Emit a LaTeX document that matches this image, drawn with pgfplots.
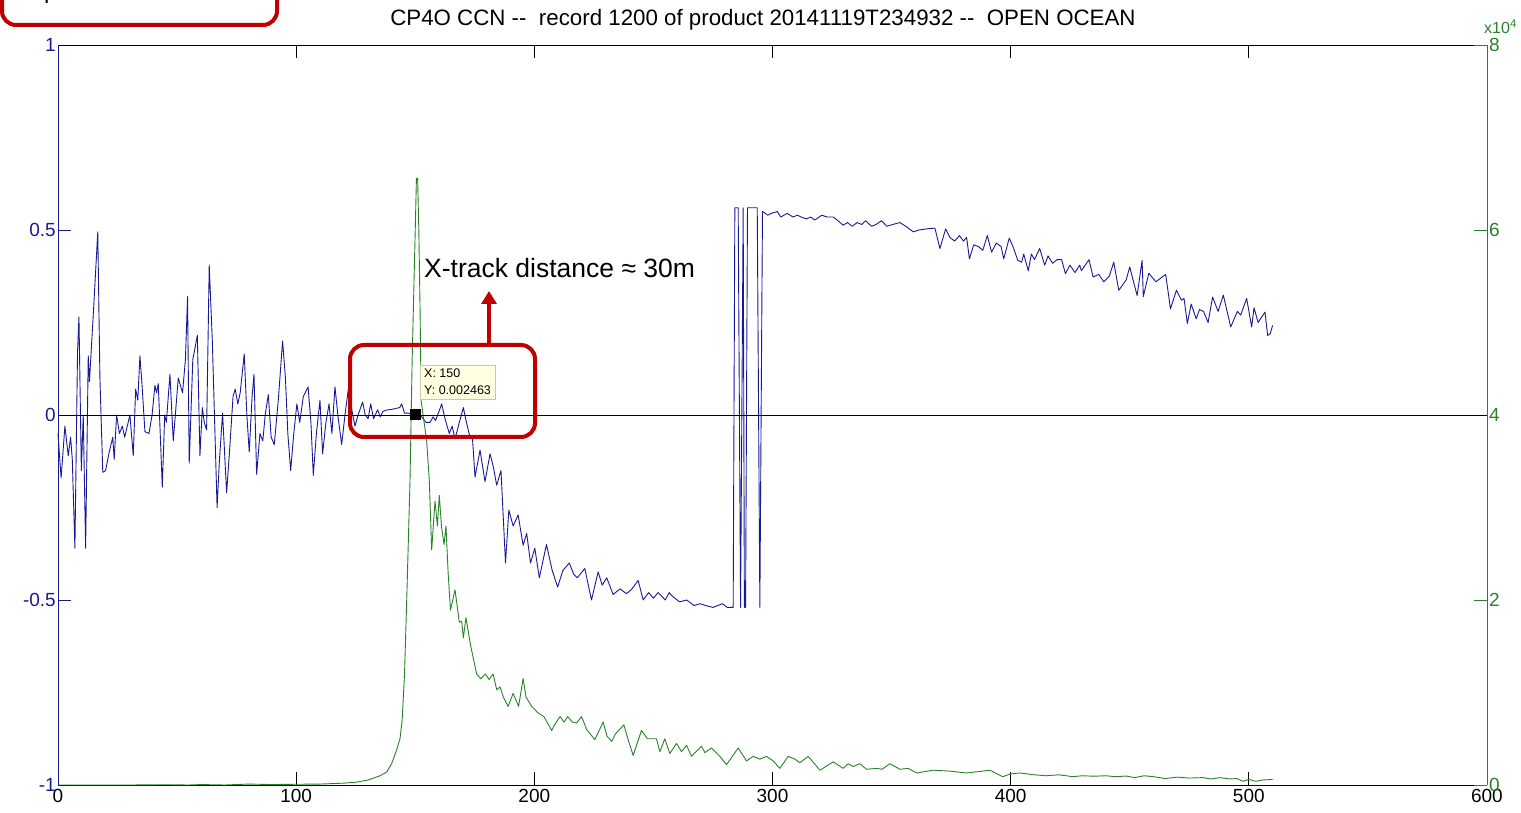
\documentclass[border=0pt]{standalone}
\usepackage{pgfplots}
\pgfplotsset{compat=1.18}
\usepackage{fontspec}
\setmainfont{Liberation Sans}
\usetikzlibrary{arrows.meta}
\definecolor{mblue}{RGB}{25,25,150}
\definecolor{mgreen}{RGB}{40,130,40}
\definecolor{tipred}{RGB}{192,0,0}
\definecolor{tipbg}{RGB}{255,255,225}
\definecolor{tipbd}{RGB}{200,200,170}
\begin{document}
\begin{tikzpicture}
\pgfplotsset{
  common/.style={
    at={(58pt,27pt)}, anchor=south west, scale only axis,
    width=1429pt, height=740pt,
    xmin=0, xmax=600,
    tick align=inside, major tick length=13pt,
    tick label style={font=\fontsize{19}{21}\selectfont, inner sep=2pt},
    /pgf/number format/assume math mode=true,
    clip=false,
  }
}
% ---------------- left axis (blue) ----------------
\begin{axis}[common,
  ymin=-1, ymax=1,
  axis x line*=box, axis y line*=left,
  x axis line style={black, line width=0.9pt, -},
  y axis line style={mblue, line width=0.9pt, -},
  xtick={0,100,200,300,400,500,600},
  xticklabels={0,100,200,300,400,500,600},
  xtick pos=both,
  xtick style={black, line width=0.8pt},
  xticklabel style={black, yshift=-2pt},
  ytick={-1,-0.5,0,0.5,1},
  yticklabels={-1,-0.5,0,0.5,1},
  ytick pos=left,
  ytick style={mblue, line width=0.8pt},
  yticklabel style={mblue},
]
\addplot[mblue, line width=0.9pt, line join=round] coordinates {
(0,-0.05) (1.3,-0.17) (2.9,-0.03) (4.3,-0.11) (5.3,-0.06) (6,-0.12) (7.1,-0.36) (8.2,0.17) (8.8,0.265)
(9.8,-0.15) (10.6,0.0) (11.6,-0.36) (12.7,0.16) (13.2,0.09) (14.8,0.27) (16.7,0.495) (17.6,0.1)
(18.8,-0.155) (20,-0.15) (21.5,-0.1) (23,-0.06) (23.6,-0.12) (24.6,0.0) (25.8,-0.05) (27,-0.03)
(28,-0.06) (30.2,0.0) (31.6,-0.11) (32.6,0.07) (33.5,0.04) (34.4,0.16) (35.3,0.08) (36.5,-0.045)
(38.2,-0.05) (39.5,0.0) (40.7,0.08) (41.4,0.06) (42.1,0.085) (43.8,-0.195) (44.8,0.0) (45.5,-0.02)
(47,0.11) (48.4,-0.07) (50.5,0.1) (52.3,0.06) (53.5,0.15) (54.4,0.32) (55.1,-0.13) (56.6,0.15)
(57.5,0.18) (58.5,0.215) (59.6,-0.11) (60.6,0.02) (61.4,-0.02) (62.4,-0.04) (63.5,0.405) (64.8,0.2)
(66.8,-0.25) (67.8,-0.12) (69.1,0.005) (70.8,-0.21) (72,-0.1) (73.5,0.05) (74.4,0.07) (75.5,0.03)
(76.5,0.06) (78.2,0.165) (79.3,0.0) (80.3,-0.1) (81.5,0.05) (82.3,0.11) (83.4,-0.16) (84.8,-0.05)
(86,-0.07) (87,0.0) (88.3,0.055) (89.5,-0.06) (90.8,-0.08) (92.5,0.04) (94.3,0.2) (95.5,0.1)
(96.5,-0.05) (97.7,-0.15) (99,-0.05) (100.3,0.03) (101.5,-0.02) (103,0.05) (105,0.076) (106.2,-0.02)
(107.2,-0.163) (108.5,-0.05) (110,0.04) (111.1,-0.105) (112.5,-0.02) (113.8,0.03) (115,-0.05)
(116.3,0.076) (117.5,0.0) (119.1,-0.08) (120.5,0.0) (121.9,0.07) (123.2,0.02) (124.7,-0.03)
(126,0.0) (127.9,0.035) (129,0.0) (130.2,-0.01) (131.3,0.03) (132.5,-0.01) (134.2,0.014)
(135.3,-0.005) (136.5,0.01) (138.4,0.014) (140,0.015) (142,0.018) (143.5,0.02) (144.3,0.03)
(145.5,0.005) (147,0.005) (148.5,0.002) (150,0.002463) (151.5,0.0) (152.7,-0.005) (154.5,-0.02)
(156.2,-0.02) (157.5,-0.005) (158.5,-0.015) (160,0.01) (161.1,0.03) (162.5,-0.01) (164.3,-0.05)
(165.5,-0.03) (166.7,-0.065) (168.5,-0.02) (170.2,0.02) (171.5,-0.02) (173,-0.06) (174,-0.06)
(175.1,-0.168) (177.2,-0.095) (179.3,-0.18) (181.4,-0.105) (182.8,-0.14) (184.2,-0.19) (186,-0.15)
(187.9,-0.40) (189.3,-0.257) (191.1,-0.30) (193.2,-0.27) (195.3,-0.352) (196.8,-0.32) (198.4,-0.40)
(200.2,-0.36) (202.1,-0.44) (205.1,-0.35) (207.5,-0.42) (209.8,-0.465) (212,-0.42) (214.7,-0.40)
(216.5,-0.43) (218,-0.44) (221.2,-0.415) (224,-0.50) (226.8,-0.424) (228.5,-0.46) (230.4,-0.44)
(233.1,-0.485) (236,-0.47) (238.7,-0.483) (241,-0.47) (243.6,-0.447) (245.7,-0.50) (248,-0.48)
(250,-0.495) (252,-0.48) (255,-0.50) (256.6,-0.48) (258,-0.49) (261,-0.505) (264,-0.50) (267,-0.515)
(269.5,-0.51) (272,-0.515) (275,-0.52) (277,-0.515) (279,-0.51) (281,-0.52) (283.5,-0.52)
(284.2,0.56) (285.6,0.56) (286.6,-0.52) (287.7,0.56) (288.2,-0.52) (288.7,-0.52) (289.5,0.56)
(293.6,0.56) (294.7,-0.52) (295.8,0.55)
(296.1,0.549) (298,0.54) (299.6,0.545) (302,0.55) (303.5,0.535) (306.2,0.545) (308.6,0.535)
(310.5,0.54) (312,0.535) (314.3,0.53) (316,0.535) (317.8,0.527) (320.7,0.54) (323,0.535)
(325.5,0.535) (327.5,0.525) (329.7,0.513) (331.5,0.52) (333.5,0.51) (335.5,0.52) (337.5,0.515)
(339.1,0.525) (341.6,0.51) (343.5,0.515) (345.8,0.525) (348,0.51) (350.5,0.515) (353.5,0.52)
(356,0.51) (359.1,0.495) (361.5,0.5) (364.7,0.503) (368.2,0.505) (370.3,0.45) (372.7,0.503)
(374.5,0.48) (376.5,0.47) (378.5,0.485) (380.2,0.47) (381.5,0.48) (382.7,0.422) (384.5,0.46)
(386.5,0.455) (388.3,0.445) (390.2,0.485) (392,0.44) (394,0.465) (396,0.455) (397.1,0.422)
(399.4,0.478) (401,0.455) (403,0.418) (404.6,0.413) (405.5,0.435) (407.4,0.39) (408.7,0.435)
(410,0.42) (412.2,0.45) (414.3,0.405) (415.7,0.43) (417.6,0.41) (419.5,0.42) (421.4,0.42)
(423,0.382) (424.9,0.405) (427,0.385) (429,0.405) (429.7,0.39) (432.9,0.42) (434.6,0.373)
(437,0.38) (439.1,0.36) (441.4,0.375) (443.3,0.413) (445.4,0.337) (448.5,0.365) (450,0.4)
(453.1,0.323) (455.2,0.418) (455.7,0.32) (458,0.383) (461,0.36) (463,0.37) (465.1,0.38)
(467.1,0.287) (469.6,0.337) (471.7,0.31) (472.8,0.315) (474.2,0.247) (475.8,0.3) (477.9,0.26)
(479.3,0.285) (481,0.28) (482.9,0.25) (484.8,0.319) (487.1,0.28) (489.3,0.324) (492.4,0.238)
(495.2,0.28) (496.6,0.27) (499.1,0.315) (501.2,0.238) (502.2,0.29) (503.9,0.25) (506.8,0.278)
(507.9,0.215) (509,0.22) (510,0.242)
};
\end{axis}
% ---------------- right axis (green) ----------------
\begin{axis}[common,
  ymin=0, ymax=80000,
  axis x line=none, axis y line*=right,
  y axis line style={mgreen, line width=0.9pt, -},
  scaled y ticks=false,
  ytick={0,20000,40000,60000,80000},
  yticklabels={0,2,4,6,8},
  ytick pos=right,
  ytick style={mgreen, line width=0.8pt},
  yticklabel style={mgreen},
]
\addplot[mgreen, line width=0.9pt, line join=round] coordinates {
(0,0) (30,0) (45,30) (55,0) (60,50) (70,0) (80,100) (90,50) (100,80) (110,100) (115,150) (120,200)
(125,300) (129.6,500) (132,700) (135.2,1000) (138,1400) (140.1,2300) (142.2,3800) (143.6,5000)
(144.5,7000) (145.5,12000) (146.4,19800) (147.8,32900) (148.7,45900) (149.9,58900) (150.5,65600)
(151.0,65600) (151.5,60000) (152,51900) (152.5,41500) (153.4,39800) (154.8,37200) (155.9,32900)
(156.9,25400) (158.3,30700) (159.3,28000) (160.1,31300) (161,28000) (162.1,26000) (162.9,28000)
(163.8,23000) (164.8,18900) (166.7,21100) (168.5,17600) (169.5,17700) (170.2,15900) (171.3,18100)
(173.3,15000) (175.8,12000) (177.5,11500) (179.5,12000) (181,11400) (182.7,12000) (184.2,10300)
(185.6,10600) (187,9500) (189,8500) (191.1,9900) (193.4,8500) (195.3,11500) (196.5,9500)
(198.9,8500) (201.5,7800) (204,7400) (207.3,5900) (208.5,6500) (210.8,7400) (212.5,6800)
(214,7400) (216,6800) (217.8,6700) (219.8,7400) (222,6000) (225.4,4900) (228.9,6800) (230.5,5300)
(232.5,4700) (234,5500) (237.6,6500) (239.5,4800) (241.5,3200) (245,5900) (247.5,5000)
(251.3,5000) (252.7,3600) (254.8,5000) (256.9,3400) (259.7,4500) (261.8,3600) (263.9,4300)
(266,3100) (270.2,4200) (271.6,3500) (274.4,4000) (277.9,3100) (280.7,2200) (285.6,4000)
(289.1,2600) (291.9,3100) (294.7,2800) (297.5,3100) (300.3,2600) (303.1,1800) (306.6,3100)
(309.4,2800) (311.5,2400) (315,3100) (319.9,1600) (325.5,2500) (329.7,1800) (331.8,2300)
(333.9,2000) (336.7,2300) (339.5,1700) (343.7,1800) (346,1700) (349.3,2300) (353.5,1700)
(357,1800) (360.5,1300) (367.5,1600) (374.5,1500) (381.5,1300) (391.3,1600) (396.7,900)
(400,1200) (403.9,1300) (410,1100) (415,1000) (420,1100) (423.4,1000) (426,900) (430,1000)
(435,950) (440,1000) (444,900) (448.6,970) (452,800) (456,1000) (460,900) (465,700) (470,850)
(475,750) (480.8,800) (484,650) (488,800) (492,650) (495,700) (497.6,400) (500,600) (503,400)
(506,550) (510,600)
};
\end{axis}
% ---------------- overlay axis: zero line and data tip ----------------
\begin{axis}[common, ymin=-1, ymax=1, axis lines=none, ticks=none]
\addplot[black, line width=0.9pt] coordinates {(0,0) (600,0)};
\addplot[black, only marks, mark=square*, mark size=5pt] coordinates {(150,0.002463)};
\end{axis}
% ---------------- texts and annotations ----------------
\node[font=\fontsize{22.3}{24}\selectfont, anchor=center] at (763pt,792pt)
  {CP4O CCN -{}-\ \ record 1200 of product 20141119T234932 -{}-\ \ OPEN OCEAN};
\node[font=\fontsize{16}{16}\selectfont, mgreen, anchor=south west, inner sep=0pt] at (1484pt,778pt)
  {x10\textsuperscript{4}};
\node[draw=tipbd, fill=tipbg, anchor=north west, align=left, inner sep=4pt,
  font=\fontsize{12.5}{17}\selectfont] at (420pt,447pt) {X: 150\\Y: 0.002463};
\draw[tipred, line width=4pt, rounded corners=14pt] (350pt,375pt) rectangle (535pt,467pt);
\draw[tipred, line width=4pt, -{Triangle[width=15pt,length=13pt]}] (489pt,467pt) -- (489pt,521pt);
\node[font=\fontsize{26.5}{28}\selectfont, anchor=base west, inner sep=0pt] at (424pt,534pt)
  {X-track distance ≈ 30m};
\draw[tipred, line width=4pt, rounded corners=14pt] (2pt,787pt) rectangle (277pt,860pt);
\node[font=\fontsize{24}{26}\selectfont, anchor=base west, inner sep=0pt] at (44pt,813pt) {p};
\pgfresetboundingbox
\path[use as bounding box] (0,0) rectangle (1521pt,812pt);
\end{tikzpicture}
\end{document}
